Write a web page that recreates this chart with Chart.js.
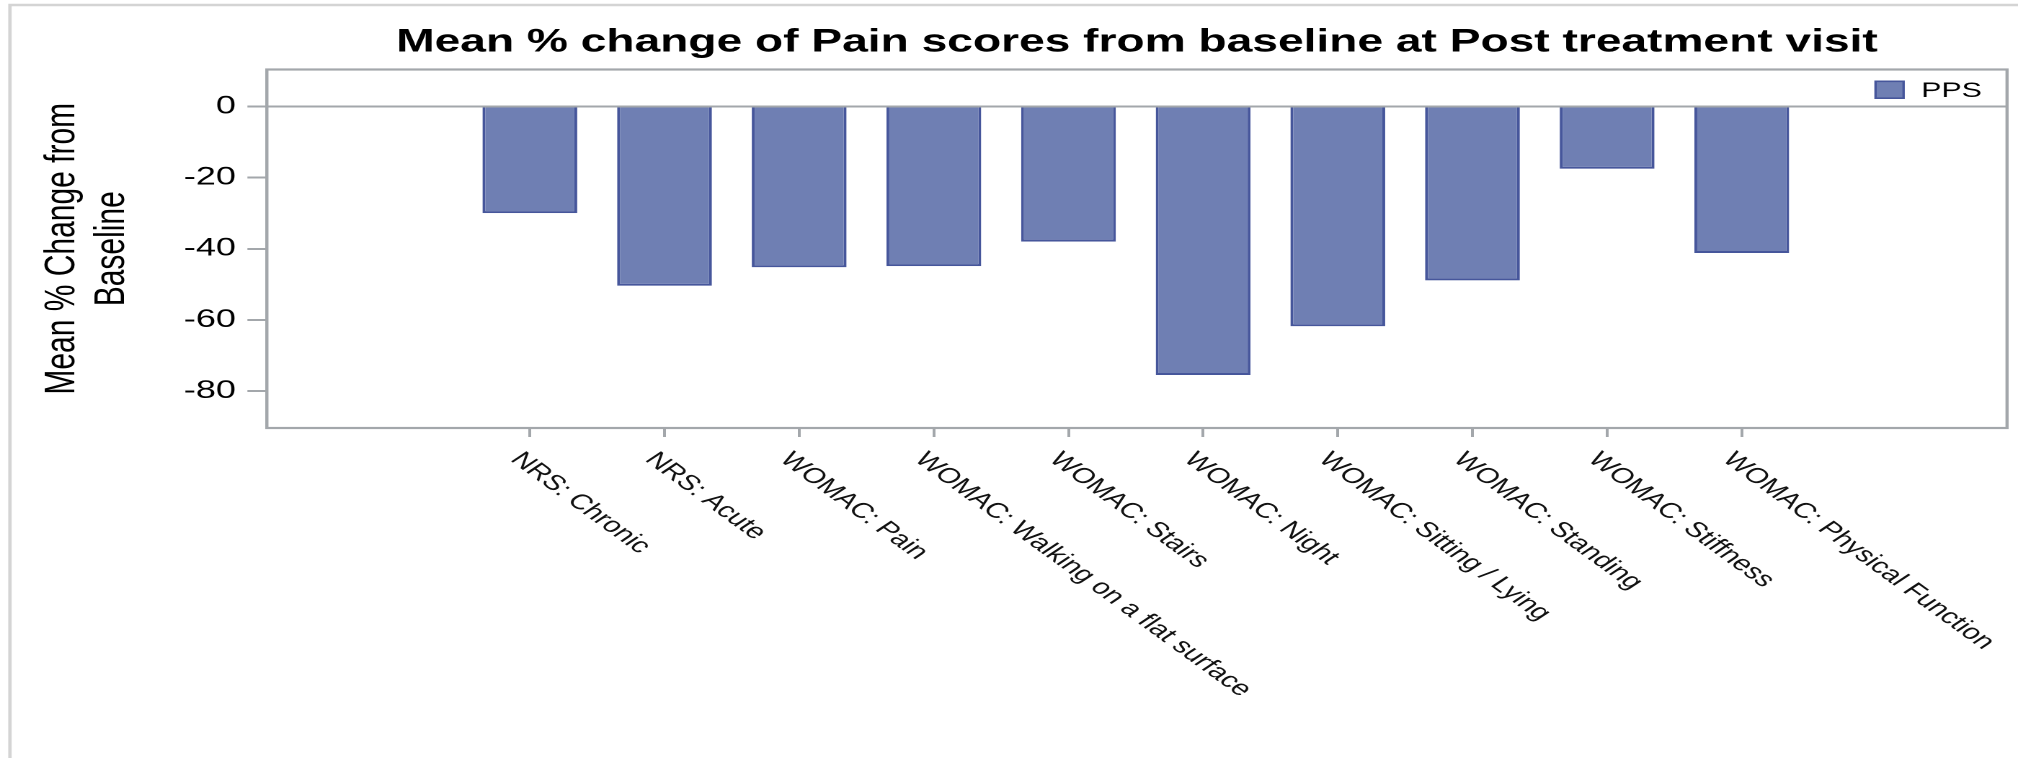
<!DOCTYPE html>
<html>
<head>
<meta charset="utf-8">
<script src="https://cdn.jsdelivr.net/npm/chart.js@4.4.1/dist/chart.umd.min.js"></script>
<style>
  html, body { margin: 0; padding: 0; background: #fff; overflow: hidden; }
  #wrap { position: absolute; left: 0; top: 0; width: 1400px; height: 758px; transform: scaleX(1.441429); transform-origin: 0 0; }
  #c { display: block; }
</style>
</head>
<body>
<div id="wrap"><canvas id="c" width="1400" height="758" style="width:1400px;height:758px"></canvas></div>
<script>
// ---- data ----
const categories = ['NRS: Chronic', 'NRS: Acute', 'WOMAC: Pain', 'WOMAC: Walking on a flat surface', 'WOMAC: Stairs', 'WOMAC: Night', 'WOMAC: Sitting / Lying', 'WOMAC: Standing', 'WOMAC: Stiffness', 'WOMAC: Physical Function'];
const ppsValues = [-30.0, -50.4, -45.2, -44.9, -38.0, -75.5, -61.8, -48.9, -17.5, -41.2];
const yTickValues = [0, -20, -40, -60, -80];
const seriesName = 'PPS';
const chartTitle = 'Mean % change of Pain scores from baseline at Post treatment visit';
const yAxisTitle = ['Mean % Change from', 'Baseline'];

// ---- styles ----
const FONT = '"Liberation Sans", Arial, Helvetica, sans-serif';
const AXIS_GRAY = '#a3a7ab';
const BAR_FILL = 'rgb(111,127,179)';
const BAR_EDGE = 'rgb(70,86,155)';

const framePlugin = {
  id: 'frame',
  beforeDraw(chart) {
    const ctx = chart.ctx;
    ctx.save();
    ctx.strokeStyle = '#d4d4d4';
    ctx.lineWidth = 2.4;
    ctx.beginPath();
    ctx.moveTo(6.9, 758);
    ctx.lineTo(6.9, 5);
    ctx.lineTo(1400, 5);
    ctx.stroke();
    ctx.restore();
  },
  afterDatasetsDraw(chart) {
    const a = chart.chartArea, ctx = chart.ctx;
    ctx.save();
    ctx.strokeStyle = AXIS_GRAY;
    ctx.lineWidth = 2.2;
    ctx.strokeRect(a.left, a.top, a.right - a.left, a.bottom - a.top);
    // legend (drawn inside plot, top-right)
    const ds = chart.data.datasets[0];
    ctx.fillStyle = ds.backgroundColor;
    ctx.strokeStyle = ds.borderColor;
    ctx.lineWidth = 1.6;
    const sx = a.right - 92, sy = a.top + 11, sw = 21, sh = 18.5;
    ctx.fillRect(sx, sy, sw, sh);
    ctx.strokeRect(sx + 0.8, sy + 0.8, sw - 1.6, sh - 1.6);
    ctx.fillStyle = '#000';
    ctx.font = '21px ' + FONT;
    ctx.textAlign = 'right';
    ctx.textBaseline = 'alphabetic';
    ctx.fillText(ds.label, a.right - 17.5, a.top + 27.5);
    ctx.restore();
  }
};

const LABEL_ANGLE = 46.3 * Math.PI / 180;
const xLabelPlugin = {
  id: 'xLabels',
  afterDraw(chart) {
    const s = chart.scales.x, ctx = chart.ctx;
    ctx.save();
    ctx.font = '21.3px ' + FONT;
    ctx.fillStyle = '#111';
    ctx.textAlign = 'left';
    ctx.textBaseline = 'middle';
    s.ticks.forEach(t => {
      const px = s.getPixelForValue(t.value);
      ctx.save();
      ctx.translate(px - 10, s.top + 28);
      ctx.rotate(LABEL_ANGLE);
      ctx.fillText(categories[t.value], 0, 0);
      ctx.restore();
    });
    ctx.restore();
  }
};

new Chart(document.getElementById('c'), {
  type: 'bar',
  data: {
    datasets: [{
      label: seriesName,
      data: ppsValues.map((v, i) => ({ x: i, y: v })),
      backgroundColor: BAR_FILL,
      borderColor: BAR_EDGE,
      borderWidth: 2,
      categoryPercentage: 1,
      barPercentage: 0.704
    }]
  },
  options: {
    responsive: false,
    animation: false,
    devicePixelRatio: 2,
    layout: { padding: { top: 13, left: 0, right: 7.6, bottom: 321 } },
    plugins: {
      legend: { display: false },
      tooltip: { enabled: false },
      title: {
        display: true,
        text: chartTitle,
        fullSize: false,
        color: '#000',
        font: { family: FONT, size: 32, weight: 'bold', lineHeight: 1.2 },
        padding: { top: 10.3, bottom: 7.8 }
      }
    },
    scales: {
      x: {
        type: 'linear',
        min: -1.953,
        max: 10.97,
        offset: false,
        border: { display: false },
        grid: { display: true, offset: false, drawOnChartArea: false, drawTicks: true, tickLength: 9, tickColor: AXIS_GRAY, tickWidth: 2 },
        ticks: { display: false },
        afterBuildTicks: s => { s.ticks = categories.map((_, i) => ({ value: i })); }
      },
      y: {
        min: -90.4,
        max: 10.4,
        border: { display: false },
        grid: {
          color: c => (c.tick && c.tick.value === 0) ? AXIS_GRAY : 'rgba(0,0,0,0)',
          lineWidth: 2,
          tickColor: AXIS_GRAY,
          tickWidth: 2,
          tickLength: 13.5
        },
        ticks: { color: '#000', padding: 8, font: { family: FONT, size: 25 } },
        afterBuildTicks: s => { s.ticks = yTickValues.map(v => ({ value: v })); },
        title: {
          display: true,
          text: yAxisTitle,
          color: '#000',
          font: { family: FONT, size: 30, lineHeight: 1.15 },
          padding: { top: 25.9, bottom: 24.6 }
        }
      }
    }
  },
  plugins: [framePlugin, xLabelPlugin]
});
</script>
</body>
</html>
